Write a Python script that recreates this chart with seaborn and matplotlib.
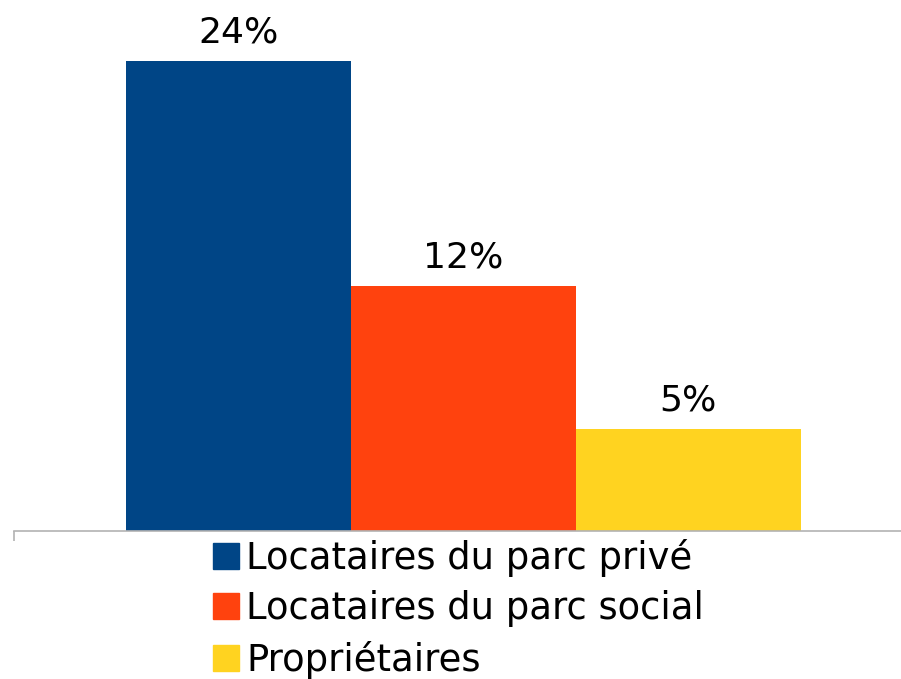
import matplotlib
matplotlib.use("Agg")
import matplotlib.pyplot as plt
import seaborn as sns
import pandas as pd

# Data
categories = ["Locataires du parc privé", "Locataires du parc social", "Propriétaires"]
values = [23.6, 12.3, 5.1]
colors = ["#004586", "#ff420e", "#ffd320"]
title = "Taux d'effort par type d'occupation"

sns.set_theme(style="white")
plt.rcParams["font.family"] = ["DejaVu Sans"]
plt.rcParams["text.color"] = "black"

df = pd.DataFrame({"groupe": [""] * len(categories), "type": categories, "valeur": values})

fig = plt.figure(figsize=(9.01, 6.79), dpi=100)
ax = fig.add_axes([14 / 901, 148 / 679, 899 / 901, 531 / 679])

sns.barplot(data=df, x="groupe", y="valeur", hue="type", hue_order=categories,
            palette=colors, width=0.75, saturation=1, linewidth=0, ax=ax, legend=True)

for cont, v in zip(ax.containers, values):
    ax.bar_label(cont, labels=[f"{v:.0f}%"], padding=8.5, fontsize=26, color="black")

ax.set_xlim(-0.5, 0.5)
ax.set_ylim(0, 26.66)
ax.set_xlabel("")
ax.set_ylabel("")
ax.set_yticks([])
ax.set_xticks([-0.5])
ax.set_xticklabels([""])
ax.tick_params(axis="x", bottom=True, length=7, width=1.2, color="#b3b3b3", direction="out")
for s in ["left", "right", "top"]:
    ax.spines[s].set_visible(False)
ax.spines["bottom"].set_color("#b3b3b3")
ax.spines["bottom"].set_linewidth(1.2)

leg = ax.get_legend()
leg.remove()
handles = [plt.Rectangle((0, 0), 1, 1, color=c) for c in colors]
fig.legend(handles, categories, loc="upper left", bbox_to_anchor=(213 / 901, 1 - 539 / 679),
           frameon=False, fontsize=26.6, handlelength=0.7, handleheight=0.7,
           handletextpad=0.2, labelspacing=0.36, borderaxespad=0, borderpad=0,
           labelcolor="black")

fig.text(141 / 901, 1 + 21 / 679, title, ha="left", va="baseline",
         fontsize=32.4, fontweight="bold", color="black", family="Liberation Sans")

fig.savefig("out.png", dpi=100)
